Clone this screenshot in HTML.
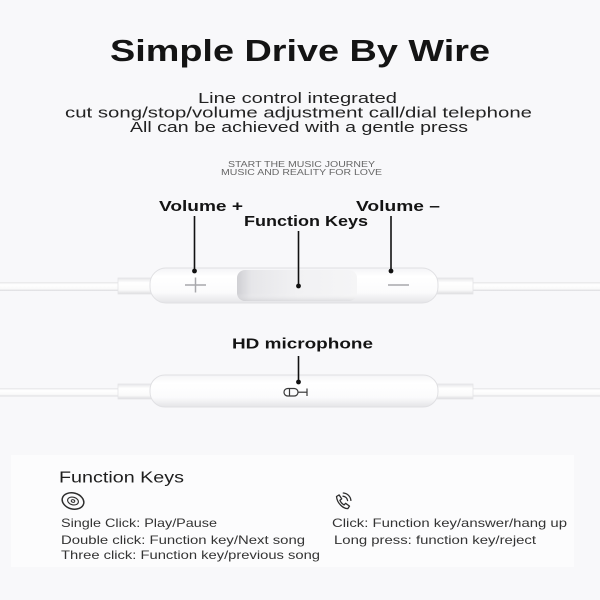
<!DOCTYPE html>
<html>
<head>
<meta charset="utf-8">
<style>
html,body{margin:0;padding:0;background:#f8f8fa;}
svg{display:block;}
text{font-family:"Liberation Sans","DejaVu Sans",sans-serif;}
</style>
</head>
<body>
<svg width="600" height="600" viewBox="0 0 600 600" xmlns="http://www.w3.org/2000/svg">
<defs>
  <linearGradient id="body" x1="0" y1="0" x2="0" y2="1">
    <stop offset="0" stop-color="#f4f4f6"/>
    <stop offset="0.25" stop-color="#ffffff"/>
    <stop offset="0.7" stop-color="#fbfbfc"/>
    <stop offset="1" stop-color="#e4e4e7"/>
  </linearGradient>
  <linearGradient id="btn" x1="0" y1="0" x2="1" y2="0">
    <stop offset="0" stop-color="#cfcfd3"/>
    <stop offset="0.12" stop-color="#e6e6e9"/>
    <stop offset="0.5" stop-color="#f1f1f3"/>
    <stop offset="1" stop-color="#f5f5f6"/>
  </linearGradient>
  <linearGradient id="btnv" x1="0" y1="0" x2="0" y2="1">
    <stop offset="0" stop-color="#ffffff" stop-opacity="0"/>
    <stop offset="0.75" stop-color="#ffffff" stop-opacity="0"/>
    <stop offset="1" stop-color="#c8c8cc" stop-opacity="0.5"/>
  </linearGradient>
  <linearGradient id="cable" x1="0" y1="0" x2="0" y2="1">
    <stop offset="0" stop-color="#e6e6e8"/>
    <stop offset="0.3" stop-color="#ffffff"/>
    <stop offset="0.75" stop-color="#fafafa"/>
    <stop offset="1" stop-color="#dcdcdf"/>
  </linearGradient>
</defs>

<rect x="0" y="0" width="600" height="600" fill="#f8f8fa"/>
<rect x="11" y="455" width="563" height="112" fill="#fcfcfd"/>

<!-- Title -->
<text x="110" y="61" font-size="31" font-weight="bold" fill="#141414" textLength="380" lengthAdjust="spacingAndGlyphs">Simple Drive By Wire</text>

<text x="198" y="103" font-size="15" fill="#222" textLength="199" lengthAdjust="spacingAndGlyphs">Line control integrated</text>
<text x="65" y="117.5" font-size="15" fill="#222" textLength="467" lengthAdjust="spacingAndGlyphs">cut song/stop/volume adjustment call/dial telephone</text>
<text x="130" y="132" font-size="15" fill="#222" textLength="338" lengthAdjust="spacingAndGlyphs">All can be achieved with a gentle press</text>

<text x="228" y="167" font-size="8" fill="#666" textLength="147" lengthAdjust="spacingAndGlyphs">START THE MUSIC JOURNEY</text>
<text x="221" y="175" font-size="8" fill="#666" textLength="161" lengthAdjust="spacingAndGlyphs">MUSIC AND REALITY FOR LOVE</text>

<!-- Remote 1 -->
<rect x="0" y="282" width="120" height="9" fill="url(#cable)"/>
<rect x="470" y="282" width="130" height="9" fill="url(#cable)"/>
<rect x="118" y="278" width="34" height="16" fill="url(#cable)" stroke="#e4e4e6" stroke-width="0.8"/>
<rect x="437" y="278" width="36" height="16" fill="url(#cable)" stroke="#e4e4e6" stroke-width="0.8"/>
<rect x="150" y="268" width="288" height="35" rx="16" fill="url(#body)" stroke="#e0e0e3" stroke-width="1"/>
<rect x="237" y="270" width="120" height="31" rx="8" fill="url(#btn)"/>
<rect x="237" y="270" width="120" height="31" rx="8" fill="url(#btnv)"/>
<!-- plus / minus -->
<line x1="185" y1="285" x2="206" y2="285" stroke="#a8a8ac" stroke-width="1.5"/>
<line x1="195.5" y1="277.5" x2="195.5" y2="292.5" stroke="#a8a8ac" stroke-width="1.5"/>
<line x1="388" y1="285" x2="409" y2="285" stroke="#a8a8ac" stroke-width="1.5"/>

<!-- Labels & connectors -->
<text x="159" y="211" font-size="15" font-weight="bold" fill="#141414" textLength="84" lengthAdjust="spacingAndGlyphs">Volume +</text>
<text x="244" y="226" font-size="15" font-weight="bold" fill="#141414" textLength="124" lengthAdjust="spacingAndGlyphs">Function Keys</text>
<text x="356" y="211" font-size="15" font-weight="bold" fill="#141414" textLength="84" lengthAdjust="spacingAndGlyphs">Volume –</text>

<line x1="194.5" y1="216" x2="194.5" y2="271" stroke="#111" stroke-width="1.6"/>
<circle cx="194.5" cy="271" r="2.4" fill="#111"/>
<line x1="298.5" y1="231" x2="298.5" y2="286" stroke="#111" stroke-width="1.6"/>
<circle cx="298.5" cy="286" r="2.4" fill="#111"/>
<line x1="391" y1="216" x2="391" y2="271" stroke="#111" stroke-width="1.6"/>
<circle cx="391" cy="271" r="2.4" fill="#111"/>

<!-- Remote 2 -->
<rect x="0" y="388" width="120" height="8.5" fill="url(#cable)"/>
<rect x="470" y="388" width="130" height="8.5" fill="url(#cable)"/>
<rect x="118" y="384" width="34" height="15" fill="url(#cable)" stroke="#e4e4e6" stroke-width="0.8"/>
<rect x="437" y="384" width="36" height="15" fill="url(#cable)" stroke="#e4e4e6" stroke-width="0.8"/>
<rect x="150" y="375" width="288" height="32" rx="15" fill="url(#body)" stroke="#e0e0e3" stroke-width="1"/>

<text x="232" y="348.5" font-size="15" font-weight="bold" fill="#141414" textLength="141" lengthAdjust="spacingAndGlyphs">HD microphone</text>
<line x1="298.5" y1="356" x2="298.5" y2="382" stroke="#111" stroke-width="1.6"/>
<circle cx="298.5" cy="382" r="2.4" fill="#111"/>

<!-- mic icon -->
<g stroke="#3a3a3a" stroke-width="1.2" fill="none">
  <rect x="284" y="388.5" width="14" height="7.5" rx="3.7"/>
  <line x1="289.5" y1="388.5" x2="289.5" y2="396"/>
  <line x1="298" y1="392.2" x2="307" y2="392.2"/>
  <line x1="307" y1="388.5" x2="307" y2="396"/>
</g>

<!-- Function keys panel -->
<text x="59" y="482.5" font-size="15.5" fill="#1e1e1e" textLength="125" lengthAdjust="spacingAndGlyphs">Function Keys</text>

<!-- disc icon -->
<g transform="rotate(15 73 501)" fill="none" stroke="#2e2e2e">
  <ellipse cx="73" cy="501" rx="11" ry="8" stroke-width="1.5"/>
  <ellipse cx="73" cy="501" rx="5.5" ry="3.8" stroke-width="1.1"/>
  <ellipse cx="73" cy="501" rx="1.8" ry="1.3" stroke-width="1"/>
</g>

<!-- phone icon -->
<g fill="none" stroke="#2e2e2e" stroke-width="1.3" stroke-linejoin="round" stroke-linecap="round">
  <path d="M336.5 496.5 l2.6 -1.6 l2.6 4 l-1.8 1.4 c0.8 2 2.3 3.6 4.2 4.6 l1.5 -1.6 l3.9 2.8 l-1.7 2.5 c-4.5 0.2 -10.8 -5.4 -11.3 -12.1 z"/>
  <path d="M343 496.2 a5 5 0 0 1 4.6 4.4"/>
  <path d="M343.3 493 a8.2 8.2 0 0 1 7.6 7.4"/>
</g>

<text x="61" y="527" font-size="12" fill="#333" textLength="156" lengthAdjust="spacingAndGlyphs">Single Click: Play/Pause</text>
<text x="61" y="544" font-size="12" fill="#333" textLength="244" lengthAdjust="spacingAndGlyphs">Double click: Function key/Next song</text>
<text x="61" y="559" font-size="12" fill="#333" textLength="259" lengthAdjust="spacingAndGlyphs">Three click: Function key/previous song</text>
<text x="332" y="527" font-size="12" fill="#333" textLength="235" lengthAdjust="spacingAndGlyphs">Click: Function key/answer/hang up</text>
<text x="334" y="544" font-size="12" fill="#333" textLength="202" lengthAdjust="spacingAndGlyphs">Long press: function key/reject</text>
</svg>
</body>
</html>
